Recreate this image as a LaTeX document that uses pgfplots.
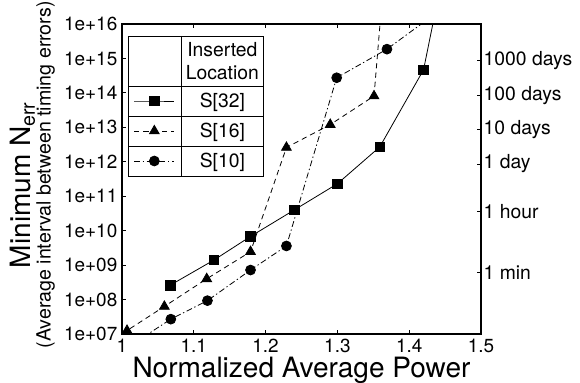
\documentclass[border=0pt]{standalone}
\usepackage{pgfplots}
\pgfplotsset{compat=1.18}
\usepackage{fontspec}
\setmainfont{TeX Gyre Heros}
\begin{document}
\begin{tikzpicture}
\begin{axis}[
  name=main,
  scale only axis, width=269.25pt, height=232.5pt,
  xmin=1, xmax=1.5, ymode=log, ymin=1e7, ymax=1e16,
  xtick={1,1.1,1.2,1.3,1.4,1.5},
  xticklabels={1,1.1,1.2,1.3,1.4,1.5},
  ytick={1e7,1e8,1e9,1e10,1e11,1e12,1e13,1e14,1e15,1e16},
  yticklabels={1e+07,1e+08,1e+09,1e+10,1e+11,1e+12,1e+13,1e+14,1e+15,1e+16},
  yminorticks=false,
  tick align=inside, major tick length=3pt,
  xtick pos=both, ytick pos=left,
  axis line style={line width=0.8pt},
  every tick/.style={black, line width=0.6pt},
  ticklabel style={font=\fontsize{14.2}{17}\selectfont},
  xlabel={Normalized Average Power},
  xlabel style={font=\fontsize{21}{24}\selectfont, at={(rel axis cs:0.5,0)}, anchor=base, yshift=-32.5pt},
  ylabel={{\fontsize{21}{24}\selectfont Minimum N\textsubscript{err}\hspace*{9pt}}\\{\fontsize{14.7}{17}\selectfont \hspace*{6.5pt}(Average interval between timing errors)}},
  ylabel style={align=center},
  legend cell align=center,
  legend style={at={(rel axis cs:0.01764,0.96129)}, anchor=north west,
    draw=black, line width=0.6pt, fill=white, inner sep=0pt, outer sep=0pt,
    row sep=0pt, column sep=0pt, cells={anchor=center},
    nodes={inner sep=0pt, outer sep=0pt, text width=61.5pt, align=center, minimum height=22.5pt,
      font=\fontsize{14.5}{17}\selectfont}},
  legend image code/.code={
    \path[draw=none,fill=none] (0pt,-11.25pt) rectangle (39.75pt,11.25pt);
    \draw[mark repeat=2, mark phase=2] plot coordinates {(4.3pt,0pt) (19.5pt,0pt) (34.5pt,0pt)};
  },
]
\addlegendimage{legend image code/.code={\path[draw=none,fill=none] (0pt,-18.75pt) rectangle (39.75pt,18.75pt);}}
\addplot[black, line width=0.6pt, solid, mark=square*, mark size=3.6pt, mark options={solid}] coordinates {
  (1.067,2.6e8) (1.128,1.4e9) (1.179,6.8e9) (1.240,4.0e10) (1.300,2.3e11)
  (1.359,2.7e12) (1.420,4.7e14) (1.440,5.4e16)
};
\addplot[black, line width=0.6pt, dash pattern=on 4pt off 3pt, mark=triangle*, mark size=4.2pt, mark options={solid}] coordinates {
  (0.990,6.9e6) (1.007,1.26e7) (1.059,6.3e7) (1.118,4.0e8) (1.179,2.45e9)
  (1.229,2.6e12) (1.290,1.2e13) (1.351,8.1e13) (1.362,4.6e16)
};
\addplot[black, line width=0.6pt, dash pattern=on 4.5pt off 2pt on 1pt off 2pt, mark=*, mark size=3.7pt, mark options={solid}] coordinates {
  (1.000,3.2e6) (1.068,2.7e7) (1.119,9.3e7) (1.179,7.2e8) (1.229,3.6e9)
  (1.299,2.75e14) (1.369,1.86e15) (1.500,1.86e17)
};
\legend{{\phantom{I}},{\smash{S[32]}\vphantom{S}},{\smash{S[16]}\vphantom{S}},{\smash{S[10]}\vphantom{S}}}
\end{axis}
\begin{axis}[
  scale only axis, width=269.25pt, height=232.5pt,
  at={(main.south west)}, anchor=south west,
  xmin=1, xmax=1.5, ymode=log, ymin=1e7, ymax=1e16,
  axis x line=none, axis y line*=right,
  ytick={6e8,3.6e10,8.64e11,8.64e12,8.64e13,8.64e14},
  yticklabels={1 min,1 hour,1 day,10 days,100 days,1000 days},
  yminorticks=false, tick align=inside, major tick length=3pt,
  axis line style={line width=0.8pt},
  every tick/.style={black, line width=0.6pt},
  yticklabel style={font=\fontsize{14.5}{17}\selectfont, anchor=west, xshift=-1.5pt},
]
\end{axis}
\draw[line width=0.6pt] ([shift={(44.5pt,-9pt)}]main.north west) -- ([shift={(44.5pt,-114pt)}]main.north west);
\draw[line width=0.6pt] ([shift={(4.75pt,-46.5pt)}]main.north west) -- ([shift={(106pt,-46.5pt)}]main.north west);
\draw[line width=0.6pt] ([shift={(4.75pt,-69pt)}]main.north west) -- ([shift={(106pt,-69pt)}]main.north west);
\draw[line width=0.6pt] ([shift={(4.75pt,-91.5pt)}]main.north west) -- ([shift={(106pt,-91.5pt)}]main.north west);
\node[inner sep=0pt, align=center, font=\fontsize{14.5}{17}\selectfont] at ([shift={(75.25pt,-27.75pt)}]main.north west) {Inserted\\Location};
\pgfresetboundingbox
\path ([xshift=-91.5pt,yshift=-36pt]main.south west) rectangle ([xshift=74.25pt,yshift=18pt]main.north east);
\end{tikzpicture}
\end{document}
